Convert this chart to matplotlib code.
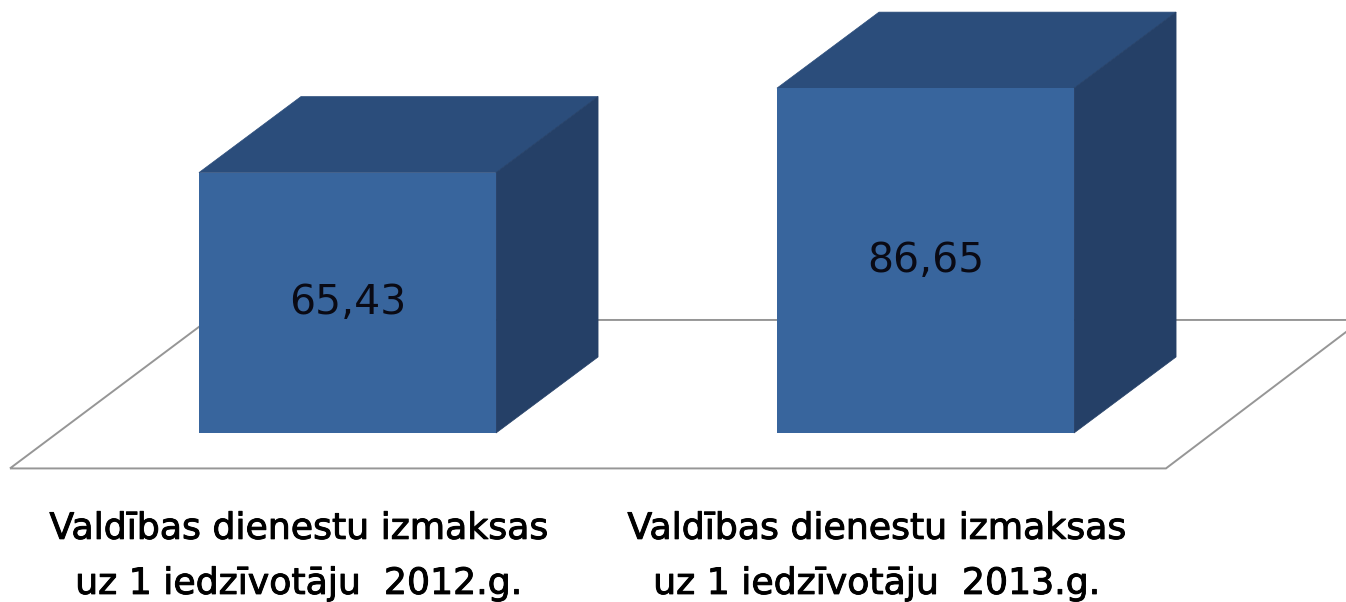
import matplotlib
matplotlib.use("Agg")
import matplotlib.pyplot as plt
import matplotlib.patheffects as pe
from matplotlib.patches import Polygon

categories = ["Valdības dienestu izmaksas\nuz 1 iedzīvotāju  2012.g.",
              "Valdības dienestu izmaksas\nuz 1 iedzīvotāju  2013.g."]
values = [65.43, 86.65]
value_labels = ["65,43", "86,65"]

FRONT = "#38659D"
TOP = "#2B4D7B"
SIDE = "#254067"
FLOOR = "#969696"

bar_w = 0.514
depth_x = 0.1765
depth_y = 19.1

fig = plt.figure(figsize=(13.46, 6.02), dpi=100)
ax = fig.add_axes([0, 0, 1, 1])
# limits chosen so one category step is 578 px and one unit is 3.98 px
ax.set_xlim(-347.5 / 578, (1346 - 347.5) / 578)
ax.set_ylim((433 - 602) / 3.98, 433 / 3.98)
ax.axis("off")

# floor outline, drawn behind the boxes
floor = Polygon([(-0.584, -8.9), (1.416, -8.9), (1.755, 28.4), (-0.241, 28.4)],
                closed=True, fill=False, edgecolor=FLOOR, linewidth=1.4, zorder=1)
ax.add_patch(floor)

for i, v in enumerate(values):
    l = i - bar_w / 2
    r = i + bar_w / 2
    ax.add_patch(Polygon([(l, v), (r, v), (r + depth_x, v + depth_y), (l + depth_x, v + depth_y)],
                         facecolor=TOP, edgecolor=TOP, linewidth=0.5, zorder=2))
    ax.add_patch(Polygon([(r, 0), (r + depth_x, depth_y), (r + depth_x, v + depth_y), (r, v)],
                         facecolor=SIDE, edgecolor=SIDE, linewidth=0.5, zorder=2))
    ax.add_patch(Polygon([(l, 0), (r, 0), (r, v), (l, v)], facecolor=FRONT, edgecolor="none", zorder=3))
    ax.text(i, v / 2, value_labels[i], ha="center", va="center", fontsize=29.5,
            color="#0A0A14", zorder=4)
    t = ax.text(i - 0.085, -31.0, categories[i], ha="center", va="center", fontsize=26.1,
                color="black", linespacing=1.78, zorder=4)
    t.set_path_effects([pe.withStroke(linewidth=0.7, foreground="black")])

fig.savefig("out.png", dpi=100)
